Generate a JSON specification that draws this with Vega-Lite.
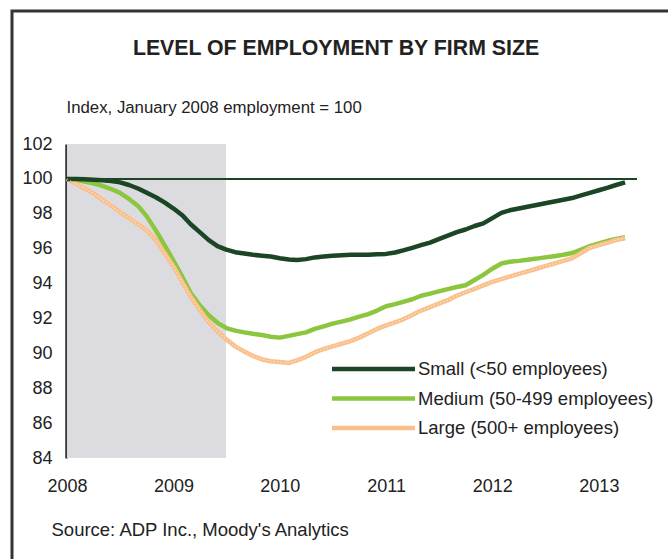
{
  "$schema": "https://vega.github.io/schema/vega-lite/v6.json",
  "width": 656,
  "height": 548,
  "autosize": {"type": "none"},
  "padding": {"left": 12, "top": 11, "right": 0, "bottom": 0},
  "background": "#ffffff",
  "title": {"text": "LEVEL OF EMPLOYMENT BY FIRM SIZE", "anchor": "middle", "frame": "group", "offset": -65, "dx": -4, "baseline": "alphabetic", "fontSize": 21.3, "fontWeight": "bold", "font": "Liberation Sans", "color": "#222222"},
  "config": {
    "view": {"stroke": "#333333", "strokeWidth": 3, "strokeDash": [656, 1204, 548]},
    "font": "Liberation Sans"
  },
  "datasets": {
    "emp": [
      {"date": "2008-01-01", "series": "Medium (50-499 employees)", "value": 100},
      {"date": "2008-02-01", "series": "Medium (50-499 employees)", "value": 99.95},
      {"date": "2008-03-01", "series": "Medium (50-499 employees)", "value": 99.85},
      {"date": "2008-04-01", "series": "Medium (50-499 employees)", "value": 99.75},
      {"date": "2008-05-01", "series": "Medium (50-499 employees)", "value": 99.6},
      {"date": "2008-06-01", "series": "Medium (50-499 employees)", "value": 99.42},
      {"date": "2008-07-01", "series": "Medium (50-499 employees)", "value": 99.2},
      {"date": "2008-08-01", "series": "Medium (50-499 employees)", "value": 98.85},
      {"date": "2008-09-01", "series": "Medium (50-499 employees)", "value": 98.45},
      {"date": "2008-10-01", "series": "Medium (50-499 employees)", "value": 97.85},
      {"date": "2008-11-01", "series": "Medium (50-499 employees)", "value": 97.05},
      {"date": "2008-12-01", "series": "Medium (50-499 employees)", "value": 96.2},
      {"date": "2009-01-01", "series": "Medium (50-499 employees)", "value": 95.3},
      {"date": "2009-02-01", "series": "Medium (50-499 employees)", "value": 94.35},
      {"date": "2009-03-01", "series": "Medium (50-499 employees)", "value": 93.45},
      {"date": "2009-04-01", "series": "Medium (50-499 employees)", "value": 92.75},
      {"date": "2009-05-01", "series": "Medium (50-499 employees)", "value": 92.2},
      {"date": "2009-06-01", "series": "Medium (50-499 employees)", "value": 91.75},
      {"date": "2009-07-01", "series": "Medium (50-499 employees)", "value": 91.45},
      {"date": "2009-08-01", "series": "Medium (50-499 employees)", "value": 91.3},
      {"date": "2009-09-01", "series": "Medium (50-499 employees)", "value": 91.2},
      {"date": "2009-10-01", "series": "Medium (50-499 employees)", "value": 91.12},
      {"date": "2009-11-01", "series": "Medium (50-499 employees)", "value": 91.05},
      {"date": "2009-12-01", "series": "Medium (50-499 employees)", "value": 90.95},
      {"date": "2010-01-01", "series": "Medium (50-499 employees)", "value": 90.9},
      {"date": "2010-02-01", "series": "Medium (50-499 employees)", "value": 91.0},
      {"date": "2010-03-01", "series": "Medium (50-499 employees)", "value": 91.1},
      {"date": "2010-04-01", "series": "Medium (50-499 employees)", "value": 91.2},
      {"date": "2010-05-01", "series": "Medium (50-499 employees)", "value": 91.4},
      {"date": "2010-06-01", "series": "Medium (50-499 employees)", "value": 91.55},
      {"date": "2010-07-01", "series": "Medium (50-499 employees)", "value": 91.7},
      {"date": "2010-08-01", "series": "Medium (50-499 employees)", "value": 91.82},
      {"date": "2010-09-01", "series": "Medium (50-499 employees)", "value": 91.95},
      {"date": "2010-10-01", "series": "Medium (50-499 employees)", "value": 92.1},
      {"date": "2010-11-01", "series": "Medium (50-499 employees)", "value": 92.25},
      {"date": "2010-12-01", "series": "Medium (50-499 employees)", "value": 92.45},
      {"date": "2011-01-01", "series": "Medium (50-499 employees)", "value": 92.7},
      {"date": "2011-02-01", "series": "Medium (50-499 employees)", "value": 92.82},
      {"date": "2011-03-01", "series": "Medium (50-499 employees)", "value": 92.95},
      {"date": "2011-04-01", "series": "Medium (50-499 employees)", "value": 93.1},
      {"date": "2011-05-01", "series": "Medium (50-499 employees)", "value": 93.3},
      {"date": "2011-06-01", "series": "Medium (50-499 employees)", "value": 93.42},
      {"date": "2011-07-01", "series": "Medium (50-499 employees)", "value": 93.55},
      {"date": "2011-08-01", "series": "Medium (50-499 employees)", "value": 93.68},
      {"date": "2011-09-01", "series": "Medium (50-499 employees)", "value": 93.8},
      {"date": "2011-10-01", "series": "Medium (50-499 employees)", "value": 93.9},
      {"date": "2011-11-01", "series": "Medium (50-499 employees)", "value": 94.2},
      {"date": "2011-12-01", "series": "Medium (50-499 employees)", "value": 94.5},
      {"date": "2012-01-01", "series": "Medium (50-499 employees)", "value": 94.85},
      {"date": "2012-02-01", "series": "Medium (50-499 employees)", "value": 95.15},
      {"date": "2012-03-01", "series": "Medium (50-499 employees)", "value": 95.25},
      {"date": "2012-04-01", "series": "Medium (50-499 employees)", "value": 95.3},
      {"date": "2012-05-01", "series": "Medium (50-499 employees)", "value": 95.37},
      {"date": "2012-06-01", "series": "Medium (50-499 employees)", "value": 95.43},
      {"date": "2012-07-01", "series": "Medium (50-499 employees)", "value": 95.5},
      {"date": "2012-08-01", "series": "Medium (50-499 employees)", "value": 95.57},
      {"date": "2012-09-01", "series": "Medium (50-499 employees)", "value": 95.65},
      {"date": "2012-10-01", "series": "Medium (50-499 employees)", "value": 95.75},
      {"date": "2012-11-01", "series": "Medium (50-499 employees)", "value": 95.95},
      {"date": "2012-12-01", "series": "Medium (50-499 employees)", "value": 96.15},
      {"date": "2013-01-01", "series": "Medium (50-499 employees)", "value": 96.3},
      {"date": "2013-02-01", "series": "Medium (50-499 employees)", "value": 96.45},
      {"date": "2013-03-01", "series": "Medium (50-499 employees)", "value": 96.55},
      {"date": "2013-04-01", "series": "Medium (50-499 employees)", "value": 96.65},
      {"date": "2008-01-01", "series": "Large (500+ employees)", "value": 100},
      {"date": "2008-02-01", "series": "Large (500+ employees)", "value": 99.72},
      {"date": "2008-03-01", "series": "Large (500+ employees)", "value": 99.45},
      {"date": "2008-04-01", "series": "Large (500+ employees)", "value": 99.17},
      {"date": "2008-05-01", "series": "Large (500+ employees)", "value": 98.8},
      {"date": "2008-06-01", "series": "Large (500+ employees)", "value": 98.47},
      {"date": "2008-07-01", "series": "Large (500+ employees)", "value": 98.1},
      {"date": "2008-08-01", "series": "Large (500+ employees)", "value": 97.75},
      {"date": "2008-09-01", "series": "Large (500+ employees)", "value": 97.4},
      {"date": "2008-10-01", "series": "Large (500+ employees)", "value": 97.05},
      {"date": "2008-11-01", "series": "Large (500+ employees)", "value": 96.5},
      {"date": "2008-12-01", "series": "Large (500+ employees)", "value": 95.75},
      {"date": "2009-01-01", "series": "Large (500+ employees)", "value": 94.97},
      {"date": "2009-02-01", "series": "Large (500+ employees)", "value": 94.05},
      {"date": "2009-03-01", "series": "Large (500+ employees)", "value": 93.25},
      {"date": "2009-04-01", "series": "Large (500+ employees)", "value": 92.5},
      {"date": "2009-05-01", "series": "Large (500+ employees)", "value": 91.8},
      {"date": "2009-06-01", "series": "Large (500+ employees)", "value": 91.25},
      {"date": "2009-07-01", "series": "Large (500+ employees)", "value": 90.8},
      {"date": "2009-08-01", "series": "Large (500+ employees)", "value": 90.4},
      {"date": "2009-09-01", "series": "Large (500+ employees)", "value": 90.1},
      {"date": "2009-10-01", "series": "Large (500+ employees)", "value": 89.85},
      {"date": "2009-11-01", "series": "Large (500+ employees)", "value": 89.65},
      {"date": "2009-12-01", "series": "Large (500+ employees)", "value": 89.55},
      {"date": "2010-01-01", "series": "Large (500+ employees)", "value": 89.5},
      {"date": "2010-02-01", "series": "Large (500+ employees)", "value": 89.45},
      {"date": "2010-03-01", "series": "Large (500+ employees)", "value": 89.6},
      {"date": "2010-04-01", "series": "Large (500+ employees)", "value": 89.8},
      {"date": "2010-05-01", "series": "Large (500+ employees)", "value": 90.05},
      {"date": "2010-06-01", "series": "Large (500+ employees)", "value": 90.25},
      {"date": "2010-07-01", "series": "Large (500+ employees)", "value": 90.4},
      {"date": "2010-08-01", "series": "Large (500+ employees)", "value": 90.55},
      {"date": "2010-09-01", "series": "Large (500+ employees)", "value": 90.7},
      {"date": "2010-10-01", "series": "Large (500+ employees)", "value": 90.9},
      {"date": "2010-11-01", "series": "Large (500+ employees)", "value": 91.15},
      {"date": "2010-12-01", "series": "Large (500+ employees)", "value": 91.4},
      {"date": "2011-01-01", "series": "Large (500+ employees)", "value": 91.6},
      {"date": "2011-02-01", "series": "Large (500+ employees)", "value": 91.78},
      {"date": "2011-03-01", "series": "Large (500+ employees)", "value": 91.95},
      {"date": "2011-04-01", "series": "Large (500+ employees)", "value": 92.2},
      {"date": "2011-05-01", "series": "Large (500+ employees)", "value": 92.45},
      {"date": "2011-06-01", "series": "Large (500+ employees)", "value": 92.65},
      {"date": "2011-07-01", "series": "Large (500+ employees)", "value": 92.85},
      {"date": "2011-08-01", "series": "Large (500+ employees)", "value": 93.05},
      {"date": "2011-09-01", "series": "Large (500+ employees)", "value": 93.3},
      {"date": "2011-10-01", "series": "Large (500+ employees)", "value": 93.5},
      {"date": "2011-11-01", "series": "Large (500+ employees)", "value": 93.7},
      {"date": "2011-12-01", "series": "Large (500+ employees)", "value": 93.9},
      {"date": "2012-01-01", "series": "Large (500+ employees)", "value": 94.1},
      {"date": "2012-02-01", "series": "Large (500+ employees)", "value": 94.25},
      {"date": "2012-03-01", "series": "Large (500+ employees)", "value": 94.4},
      {"date": "2012-04-01", "series": "Large (500+ employees)", "value": 94.55},
      {"date": "2012-05-01", "series": "Large (500+ employees)", "value": 94.7},
      {"date": "2012-06-01", "series": "Large (500+ employees)", "value": 94.85},
      {"date": "2012-07-01", "series": "Large (500+ employees)", "value": 95.0},
      {"date": "2012-08-01", "series": "Large (500+ employees)", "value": 95.15},
      {"date": "2012-09-01", "series": "Large (500+ employees)", "value": 95.3},
      {"date": "2012-10-01", "series": "Large (500+ employees)", "value": 95.45},
      {"date": "2012-11-01", "series": "Large (500+ employees)", "value": 95.75},
      {"date": "2012-12-01", "series": "Large (500+ employees)", "value": 96.05},
      {"date": "2013-01-01", "series": "Large (500+ employees)", "value": 96.2},
      {"date": "2013-02-01", "series": "Large (500+ employees)", "value": 96.35},
      {"date": "2013-03-01", "series": "Large (500+ employees)", "value": 96.5},
      {"date": "2013-04-01", "series": "Large (500+ employees)", "value": 96.6},
      {"date": "2008-01-01", "series": "Small (<50 employees)", "value": 100},
      {"date": "2008-02-01", "series": "Small (<50 employees)", "value": 100},
      {"date": "2008-03-01", "series": "Small (<50 employees)", "value": 99.98},
      {"date": "2008-04-01", "series": "Small (<50 employees)", "value": 99.95},
      {"date": "2008-05-01", "series": "Small (<50 employees)", "value": 99.92},
      {"date": "2008-06-01", "series": "Small (<50 employees)", "value": 99.88},
      {"date": "2008-07-01", "series": "Small (<50 employees)", "value": 99.8},
      {"date": "2008-08-01", "series": "Small (<50 employees)", "value": 99.65},
      {"date": "2008-09-01", "series": "Small (<50 employees)", "value": 99.45},
      {"date": "2008-10-01", "series": "Small (<50 employees)", "value": 99.2},
      {"date": "2008-11-01", "series": "Small (<50 employees)", "value": 98.95},
      {"date": "2008-12-01", "series": "Small (<50 employees)", "value": 98.65},
      {"date": "2009-01-01", "series": "Small (<50 employees)", "value": 98.3},
      {"date": "2009-02-01", "series": "Small (<50 employees)", "value": 97.9},
      {"date": "2009-03-01", "series": "Small (<50 employees)", "value": 97.4},
      {"date": "2009-04-01", "series": "Small (<50 employees)", "value": 96.95},
      {"date": "2009-05-01", "series": "Small (<50 employees)", "value": 96.5},
      {"date": "2009-06-01", "series": "Small (<50 employees)", "value": 96.15},
      {"date": "2009-07-01", "series": "Small (<50 employees)", "value": 95.95},
      {"date": "2009-08-01", "series": "Small (<50 employees)", "value": 95.8},
      {"date": "2009-09-01", "series": "Small (<50 employees)", "value": 95.72},
      {"date": "2009-10-01", "series": "Small (<50 employees)", "value": 95.65},
      {"date": "2009-11-01", "series": "Small (<50 employees)", "value": 95.6},
      {"date": "2009-12-01", "series": "Small (<50 employees)", "value": 95.55},
      {"date": "2010-01-01", "series": "Small (<50 employees)", "value": 95.45},
      {"date": "2010-02-01", "series": "Small (<50 employees)", "value": 95.38},
      {"date": "2010-03-01", "series": "Small (<50 employees)", "value": 95.35},
      {"date": "2010-04-01", "series": "Small (<50 employees)", "value": 95.4},
      {"date": "2010-05-01", "series": "Small (<50 employees)", "value": 95.5},
      {"date": "2010-06-01", "series": "Small (<50 employees)", "value": 95.55},
      {"date": "2010-07-01", "series": "Small (<50 employees)", "value": 95.6},
      {"date": "2010-08-01", "series": "Small (<50 employees)", "value": 95.62},
      {"date": "2010-09-01", "series": "Small (<50 employees)", "value": 95.65},
      {"date": "2010-10-01", "series": "Small (<50 employees)", "value": 95.65},
      {"date": "2010-11-01", "series": "Small (<50 employees)", "value": 95.65},
      {"date": "2010-12-01", "series": "Small (<50 employees)", "value": 95.68},
      {"date": "2011-01-01", "series": "Small (<50 employees)", "value": 95.7},
      {"date": "2011-02-01", "series": "Small (<50 employees)", "value": 95.78},
      {"date": "2011-03-01", "series": "Small (<50 employees)", "value": 95.9},
      {"date": "2011-04-01", "series": "Small (<50 employees)", "value": 96.05},
      {"date": "2011-05-01", "series": "Small (<50 employees)", "value": 96.2},
      {"date": "2011-06-01", "series": "Small (<50 employees)", "value": 96.35},
      {"date": "2011-07-01", "series": "Small (<50 employees)", "value": 96.55},
      {"date": "2011-08-01", "series": "Small (<50 employees)", "value": 96.75},
      {"date": "2011-09-01", "series": "Small (<50 employees)", "value": 96.95},
      {"date": "2011-10-01", "series": "Small (<50 employees)", "value": 97.1},
      {"date": "2011-11-01", "series": "Small (<50 employees)", "value": 97.3},
      {"date": "2011-12-01", "series": "Small (<50 employees)", "value": 97.45},
      {"date": "2012-01-01", "series": "Small (<50 employees)", "value": 97.75},
      {"date": "2012-02-01", "series": "Small (<50 employees)", "value": 98.05},
      {"date": "2012-03-01", "series": "Small (<50 employees)", "value": 98.2},
      {"date": "2012-04-01", "series": "Small (<50 employees)", "value": 98.3},
      {"date": "2012-05-01", "series": "Small (<50 employees)", "value": 98.4},
      {"date": "2012-06-01", "series": "Small (<50 employees)", "value": 98.5},
      {"date": "2012-07-01", "series": "Small (<50 employees)", "value": 98.6},
      {"date": "2012-08-01", "series": "Small (<50 employees)", "value": 98.7},
      {"date": "2012-09-01", "series": "Small (<50 employees)", "value": 98.8},
      {"date": "2012-10-01", "series": "Small (<50 employees)", "value": 98.9},
      {"date": "2012-11-01", "series": "Small (<50 employees)", "value": 99.05},
      {"date": "2012-12-01", "series": "Small (<50 employees)", "value": 99.2},
      {"date": "2013-01-01", "series": "Small (<50 employees)", "value": 99.35},
      {"date": "2013-02-01", "series": "Small (<50 employees)", "value": 99.5},
      {"date": "2013-03-01", "series": "Small (<50 employees)", "value": 99.65},
      {"date": "2013-04-01", "series": "Small (<50 employees)", "value": 99.8}
    ]
  },
  "encoding": {
    "x": {
      "field": "date",
      "type": "temporal",
      "scale": {"type": "utc", "domain": [{"year": 2008, "month": 1, "date": 1, "utc": true}, {"year": 2013, "month": 5, "date": 12, "utc": true}], "range": [55, 625]},
      "axis": {
        "title": "Source: ADP Inc., Moody's Analytics",
        "titleAlign": "left",
        "titleAnchor": "start",
        "titleX": 39,
        "titleY": 71,
        "titleBaseline": "middle",
        "titleFont": "Liberation Sans",
        "titleFontSize": 18.5,
        "titleFontWeight": "normal",
        "titleColor": "#222222",
        "domain": false,
        "ticks": false,
        "grid": false,
        "offset": -101,
        "labelPadding": 19,
        "labelDx": 3,
        "labelFlush": false,
        "labelOverlap": false,
        "labelFont": "Liberation Sans",
        "labelFontSize": 18,
        "labelColor": "#222222",
        "format": "%Y",
        "values": [
          {"year": 2008, "month": 1, "date": 1, "utc": true},
          {"year": 2009, "month": 1, "date": 1, "utc": true},
          {"year": 2010, "month": 1, "date": 1, "utc": true},
          {"year": 2011, "month": 1, "date": 1, "utc": true},
          {"year": 2012, "month": 1, "date": 1, "utc": true},
          {"year": 2013, "month": 1, "date": 1, "utc": true}
        ]
      }
    },
    "y": {
      "field": "value",
      "type": "quantitative",
      "scale": {"domain": [84, 102], "range": [447, 133], "nice": false, "zero": false},
      "axis": {
        "title": "Index, January 2008 employment = 100",
        "titleAngle": 0,
        "titleAlign": "left",
        "titleAnchor": "start",
        "titleBaseline": "middle",
        "titleX": 0,
        "titleY": 96,
        "titleFont": "Liberation Sans",
        "titleFontSize": 16.8,
        "titleFontWeight": "normal",
        "titleColor": "#222222",
        "values": [84, 86, 88, 90, 92, 94, 96, 98, 100, 102],
        "ticks": false,
        "grid": false,
        "domainColor": "#333333",
        "domainWidth": 2.5,
        "offset": -54,
        "labelPadding": 14,
        "labelFont": "Liberation Sans",
        "labelFontSize": 18,
        "labelColor": "#222222"
      }
    }
  },
  "layer": [
    {
      "data": {"values": [{"date": "2008-01-01", "date_end": "2009-06-30", "value": 84, "value_end": 102}]},
      "mark": {"type": "rect", "color": "#dcdce0"},
      "encoding": {"x2": {"field": "date_end"}, "y2": {"field": "value_end"}}
    },
    {
      "data": {"values": [{"date": "2008-01-01", "date_end": "2013-05-12", "value": 100}]},
      "mark": {"type": "rule", "color": "#1b4524", "strokeWidth": 2},
      "encoding": {"x2": {"field": "date_end"}}
    },
    {
      "data": {"name": "emp"},
      "mark": {"type": "line", "strokeWidth": 4.5, "strokeJoin": "round"},
      "encoding": {
        "color": {
          "field": "series",
          "type": "nominal",
          "scale": {"domain": ["Small (<50 employees)", "Medium (50-499 employees)", "Large (500+ employees)"], "range": ["#1b4524", "#8cc63f", "#f9c08b"]},
          "legend": {
            "orient": "none",
            "legendX": 307.5,
            "legendY": 345.5,
            "title": null,
            "symbolType": "M0,0H8.3",
            "symbolSize": 400,
            "symbolStrokeWidth": 4.5,
            "labelFont": "Liberation Sans",
            "labelFontSize": 18.5,
            "labelColor": "#222222",
            "labelOffset": 73.5,
            "labelLimit": 400,
            "rowPadding": 7.5,
            "padding": 0
          }
        }
      }
    },
    {
      "data": {"name": "emp"},
      "transform": [{"filter": "datum.series === 'Large (500+ employees)'"}],
      "mark": {"type": "line", "stroke": "#ffffff", "strokeWidth": 1.2, "strokeDash": [1.5, 2], "opacity": 0.5},
      "encoding": {}
    }
  ]
}
